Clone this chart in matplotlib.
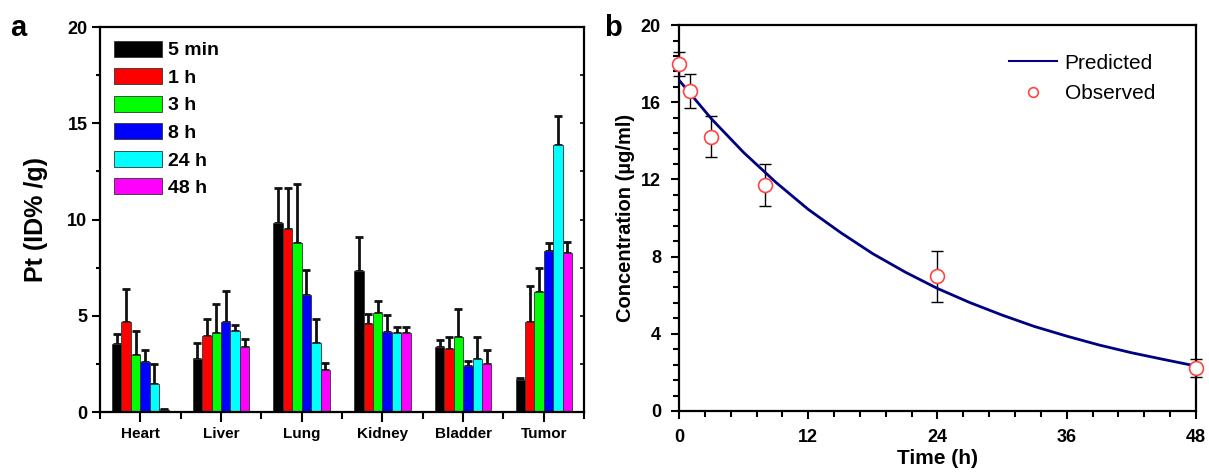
import matplotlib
matplotlib.use('Agg')
import matplotlib.pyplot as plt
from matplotlib.lines import Line2D
from matplotlib.ticker import MultipleLocator
import numpy as np

plt.rcParams['font.family'] = ['Liberation Sans', 'DejaVu Sans']

# ---- panel a : biodistribution ----
organs = ['Heart', 'Liver', 'Lung', 'Kidney', 'Bladder', 'Tumor']
times = ['5 min', '1 h', '3 h', '8 h', '24 h', '48 h']
colors = ['#000000', '#ff0000', '#00ff00', '#0000ff', '#00ffff', '#ff00ff']

pt_5min = [3.54, 2.77, 9.80, 7.32, 3.36, 1.66]
pt_1h = [4.70, 3.94, 9.50, 4.56, 3.28, 4.70]
pt_3h = [2.94, 4.11, 8.77, 5.12, 3.88, 6.24]
pt_8h = [2.58, 4.65, 6.06, 4.18, 2.40, 8.36]
pt_24h = [1.46, 4.22, 3.59, 4.11, 2.75, 13.85]
pt_48h = [0.12, 3.36, 2.18, 4.11, 2.47, 8.26]

err_5min = [0.50, 0.80, 1.84, 1.79, 0.39, 0.13]
err_1h = [1.69, 0.89, 2.14, 0.54, 0.64, 1.83]
err_3h = [1.26, 1.48, 3.08, 0.63, 1.47, 1.22]
err_8h = [0.64, 1.66, 1.34, 0.84, 0.27, 0.40]
err_24h = [1.05, 0.29, 1.24, 0.33, 1.17, 1.52]
err_48h = [0.06, 0.44, 0.38, 0.33, 0.73, 0.56]

# ---- panel b : pharmacokinetics ----
t_obs = [0, 1, 3, 8, 24, 48]
c_obs = [17.98, 16.58, 14.21, 11.72, 6.97, 2.23]
c_err = [0.64, 0.87, 1.07, 1.10, 1.32, 0.45]

t_pred = [0, 3, 6, 9, 12, 15, 18, 21, 24, 27, 30, 33, 36, 39, 42, 45, 48]
c_pred = [17.15, 15.15, 13.40, 11.85, 10.45, 9.25, 8.15, 7.20, 6.35,
          5.62, 4.97, 4.38, 3.88, 3.42, 3.02, 2.67, 2.33]

fig = plt.figure(figsize=(12.09, 4.74), dpi=100)
ax = fig.add_axes([0.0827, 0.1308, 0.4005, 0.8122])
bx = fig.add_axes([0.5616, 0.133, 0.4276, 0.814])

# panel a
vals = [pt_5min, pt_1h, pt_3h, pt_8h, pt_24h, pt_48h]
errs = [err_5min, err_1h, err_3h, err_8h, err_24h, err_48h]
x = np.arange(len(organs))
w = 0.117
for i in range(len(times)):
    pos = x + (i - 2.5) * w
    ax.bar(pos, vals[i], w, color=colors[i], edgecolor='#333333',
           linewidth=0.6, label=times[i], zorder=2)
    ax.errorbar(pos, vals[i], yerr=[np.zeros(len(organs)), errs[i]],
                fmt='none', ecolor='#111111', elinewidth=2, capsize=3,
                capthick=2, zorder=1)

ax.set_xlim(-0.5, 5.5)
ax.set_ylim(0, 20)
ax.set_xticks(x)
ax.set_xticklabels(organs, fontsize=11, fontweight='bold')
ax.xaxis.set_minor_locator(MultipleLocator(1, offset=0.5))
ax.set_yticks([0, 5, 10, 15, 20])
ax.yaxis.set_minor_locator(MultipleLocator(2.5))
ax.tick_params(axis='y', which='major', labelsize=13, length=6, width=1.5, pad=3)
ax.tick_params(axis='y', which='minor', length=3, width=1.5)
ax.tick_params(axis='x', which='major', length=7, width=1.5, pad=4)
ax.tick_params(axis='x', which='minor', length=5, width=1.5)
for lab in ax.get_yticklabels():
    lab.set_fontweight('bold')
for s in ax.spines.values():
    s.set_linewidth(1.6)
ax.set_ylabel('Pt (ID% /g)', fontsize=18, fontweight='bold', labelpad=14)

# inward ticks on right spine
ax_r = ax.twinx()
ax_r.set_ylim(0, 20)
ax_r.set_yticks([0, 5, 10, 15, 20])
ax_r.yaxis.set_minor_locator(MultipleLocator(2.5))
ax_r.tick_params(axis='y', which='both', direction='in', length=3, width=1.2,
                 labelright=False)
for s in ax_r.spines.values():
    s.set_visible(False)

ax.legend(loc='upper left', bbox_to_anchor=(0.0, 1.0), frameon=False,
          prop={'size': 14, 'weight': 'bold'}, handlelength=2.5,
          handleheight=0.9, handletextpad=0.3, labelspacing=0.45,
          borderaxespad=0.3)

# panel b
bx.errorbar(t_obs, c_obs, yerr=c_err, fmt='none', ecolor='black',
            elinewidth=1, capsize=4.5, capthick=1, zorder=2, clip_on=False)
bx.plot(t_pred, c_pred, color='#000080', linewidth=2, zorder=3)
bx.plot(t_obs, c_obs, 'o', markersize=10, markerfacecolor='white',
        markeredgecolor='#ff4444', markeredgewidth=1.2, zorder=4, clip_on=False)

bx.set_xlim(0, 48)
bx.set_ylim(0, 20)
bx.set_xticks([0, 12, 24, 36, 48])
bx.set_yticks([0, 4, 8, 12, 16, 20])
bx.xaxis.set_minor_locator(MultipleLocator(2.4))
bx.yaxis.set_minor_locator(MultipleLocator(0.8))
bx.tick_params(which='major', labelsize=13, length=6, width=1.5, pad=7)
bx.tick_params(which='minor', length=4, width=1.5)
for lab in bx.get_xticklabels() + bx.get_yticklabels():
    lab.set_fontweight('bold')
for s in bx.spines.values():
    s.set_linewidth(1.6)
bx.set_xlabel('Time (h)', fontsize=15, fontweight='bold', labelpad=2)
bx.set_ylabel('Concentration (\u00b5g/ml)', fontsize=14.5, fontweight='bold',
              labelpad=4)

handles = [Line2D([], [], color='#000080', linewidth=1.5),
           Line2D([], [], marker='o', linestyle='none', markersize=7,
                  markerfacecolor='white', markeredgecolor='#ff4444',
                  markeredgewidth=1.2)]
bx.legend(handles, ['Predicted', 'Observed'], loc='upper right',
          bbox_to_anchor=(0.937, 0.948), frameon=False, fontsize=15,
          handlelength=2.3, handletextpad=0.35, labelspacing=0.55,
          borderaxespad=0.0)

fig.text(0.008, 0.925, 'a', fontsize=21, fontweight='bold')
fig.text(0.500, 0.925, 'b', fontsize=21, fontweight='bold')

fig.savefig('out.png', dpi=100)
